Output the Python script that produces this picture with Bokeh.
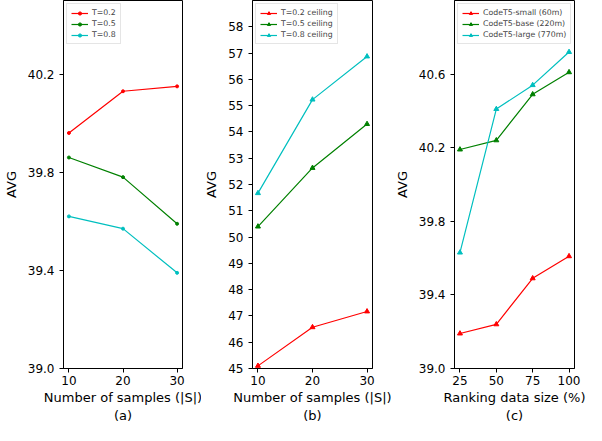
from bokeh.plotting import figure
from bokeh.layouts import row
from bokeh.models import FixedTicker, Range1d, PrintfTickFormatter
from bokeh.embed import file_html
from bokeh.resources import INLINE

# data
samples = [10, 20, 30]
a_t02 = [39.96, 40.13, 40.15]
a_t05 = [39.86, 39.78, 39.59]
a_t08 = [39.62, 39.57, 39.39]

b_t02 = [45.10, 46.57, 47.17]
b_t05 = [50.40, 52.63, 54.30]
b_t08 = [51.67, 55.23, 56.87]

sizes = [25, 50, 75, 100]
c_small = [39.19, 39.24, 39.49, 39.61]
c_base = [40.19, 40.24, 40.49, 40.61]
c_large = [39.63, 40.41, 40.54, 40.72]

a_yticks = [39.0, 39.4, 39.8, 40.2]
b_yticks = list(range(45, 59))
c_yticks = [39.0, 39.4, 39.8, 40.2, 40.6]

RED, GREEN, CYAN = "#ff0000", "#008000", "#00bfbf"
FONT = "DejaVu Sans"


def make_fig(width, left, right, xr, yr, xticks, yticks, yfmt, xlabel):
    p = figure(width=width, height=425, output_backend="svg", toolbar_location=None,
               x_range=Range1d(*xr), y_range=Range1d(*yr),
               min_border_left=left, min_border_right=right, min_border_top=0, min_border_bottom=0)
    p.grid.visible = False
    p.outline_line_color = "black"
    p.outline_line_width = 1
    p.background_fill_color = "white"
    p.xaxis.ticker = FixedTicker(ticks=xticks)
    p.yaxis.ticker = FixedTicker(ticks=yticks)
    p.yaxis.formatter = PrintfTickFormatter(format=yfmt)
    for ax in (p.xaxis, p.yaxis):
        ax.major_label_text_font = FONT
        ax.major_label_text_font_size = "12px"
        ax.major_label_text_color = "black"
        ax.axis_label_text_font = FONT
        ax.axis_label_text_font_size = "13px"
        ax.axis_label_text_font_style = "normal"
        ax.axis_label_text_color = "black"
        ax.minor_tick_line_color = None
        ax.major_tick_out = 4
        ax.major_tick_in = 0
        ax.axis_line_color = "black"
    p.xaxis.axis_label = xlabel
    p.yaxis.axis_label = "AVG"
    p.xaxis.major_label_standoff = 3
    p.xaxis.axis_label_standoff = 2
    p.yaxis.major_label_standoff = 5
    p.yaxis.axis_label_standoff = 6
    return p


def style_legend(p):
    p.legend.location = "top_left"
    p.legend.label_text_font = FONT
    p.legend.label_text_font_size = "7.8px"
    p.legend.glyph_width = 17
    p.legend.glyph_height = 8
    p.legend.label_height = 8
    p.legend.label_standoff = 4
    p.legend.spacing = 2
    p.legend.padding = 4
    p.legend.margin = 3
    p.legend.border_line_color = "#cccccc"
    p.legend.border_line_width = 1
    p.legend.background_fill_alpha = 0.8


pa = make_fig(201, 57, 19, (9.0, 31.0), (39.0, 40.5), samples, a_yticks, "%.1f",
              "Number of samples (|S|)\n(a)")
for ys, c, lab in [(a_t02, RED, "T=0.2"), (a_t05, GREEN, "T=0.5"), (a_t08, CYAN, "T=0.8")]:
    pa.line(samples, ys, line_color=c, line_width=1.2, legend_label=lab)
    pa.scatter(samples, ys, marker="circle", size=3, fill_color=c, line_color=c, legend_label=lab)
style_legend(pa)

pb = make_fig(190, 46, 19, (9.0, 31.0), (45.0, 59.0), samples, b_yticks, "%d",
              "Number of samples (|S|)\n(b)")
for ys, c, lab in [(b_t02, RED, "T=0.2 ceiling"), (b_t05, GREEN, "T=0.5 ceiling"),
                   (b_t08, CYAN, "T=0.8 ceiling")]:
    pb.line(samples, ys, line_color=c, line_width=1.2, legend_label=lab)
    pb.scatter(samples, ys, marker="triangle", size=5, fill_color=c, line_color=c, legend_label=lab)
style_legend(pb)

pc = make_fig(195, 58, 12, (21.25, 103.75), (39.0, 41.0), sizes, c_yticks, "%.1f",
              "Ranking data size (%)\n(c)")
for ys, c, lab in [(c_small, RED, "CodeT5-small (60m)"), (c_base, GREEN, "CodeT5-base (220m)"),
                   (c_large, CYAN, "CodeT5-large (770m)")]:
    pc.line(sizes, ys, line_color=c, line_width=1.2, legend_label=lab)
    pc.scatter(sizes, ys, marker="triangle", size=5, fill_color=c, line_color=c, legend_label=lab)
style_legend(pc)

layout = row(pa, pb, pc)
open("out.html", "w").write(file_html(layout, INLINE))
